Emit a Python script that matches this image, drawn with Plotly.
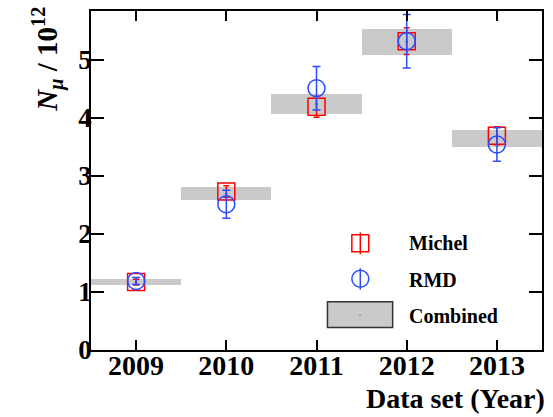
import plotly.graph_objects as go

# ---- data ----
years = [2009, 2010, 2011, 2012, 2013]
year_labels = ["2009", "2010", "2011", "2012", "2013"]
michel = [1.17, 2.73, 4.19, 5.32, 3.69]
michel_err = [0.05, 0.10, 0.18, 0.23, 0.155]
rmd = [1.19, 2.51, 4.51, 5.32, 3.54]
rmd_err = [0.06, 0.24, 0.375, 0.46, 0.29]
combined = [1.17, 2.69, 4.24, 5.31, 3.65]
combined_err = [0.05, 0.11, 0.17, 0.22, 0.145]
y_ticks = [0, 1, 2, 3, 4, 5]

W, H = 553, 417
ML, MR, MT, MB = 91, 9, 10, 67
PW, PH = W - ML - MR, H - MT - MB

def px(x):
    return (x - ML) / PW

def py(y):
    return (H - MB - y) / PH

FONT = "Liberation Serif"
RED = "#ff0000"
BLUE = "#2a4bff"
GRAY = "#cacaca"

fig = go.Figure()

# combined bands
fig.add_trace(go.Bar(
    x=years,
    y=[2 * e for e in combined_err],
    base=[c - e for c, e in zip(combined, combined_err)],
    width=1.0,
    marker=dict(color=GRAY, line=dict(width=0)),
    showlegend=False, hoverinfo="skip",
))
fig.add_trace(go.Scatter(
    x=years, y=combined, mode="markers",
    marker=dict(color="black", size=2),
    showlegend=False, hoverinfo="skip",
))

# Michel
fig.add_trace(go.Scatter(
    x=years, y=michel, mode="markers",
    marker=dict(symbol="square-open", size=17, color=RED, line=dict(width=1.5, color=RED)),
    error_y=dict(type="data", array=michel_err, color=RED, thickness=1.5, width=3),
    showlegend=False,
))
# RMD
fig.add_trace(go.Scatter(
    x=years, y=rmd, mode="markers",
    marker=dict(symbol="circle-open", size=17, color=BLUE, line=dict(width=1.5, color=BLUE)),
    error_y=dict(type="data", array=rmd_err, color=BLUE, thickness=1.5, width=4),
    showlegend=False,
))

# ---- manual legend ----
shapes = [
    # Michel
    dict(type="rect", xref="paper", yref="paper", x0=px(353), x1=px(370), y0=py(251.5), y1=py(234.5),
         line=dict(color=RED, width=1.5)),
    dict(type="line", xref="paper", yref="paper", x0=px(361.5), x1=px(361.5), y0=py(254), y1=py(232),
         line=dict(color=RED, width=1.5)),
    # RMD
    dict(type="circle", xref="paper", yref="paper", x0=px(353), x1=px(370), y0=py(287), y1=py(270),
         line=dict(color=BLUE, width=1.5)),
    dict(type="line", xref="paper", yref="paper", x0=px(361.5), x1=px(361.5), y0=py(289.5), y1=py(268),
         line=dict(color=BLUE, width=1.5)),
    # Combined
    dict(type="rect", xref="paper", yref="paper", x0=px(328.5), x1=px(394), y0=py(327.5), y1=py(301.5),
         fillcolor=GRAY, line=dict(color="#333333", width=1.5)),
    dict(type="rect", xref="paper", yref="paper", x0=px(360.7), x1=px(361.7), y0=py(315.3), y1=py(314.3),
         fillcolor="#444444", line=dict(width=0)),
]

annotations = [
    dict(text="Michel", xref="paper", yref="paper", x=px(408), y=py(243), xanchor="left", yanchor="middle",
         showarrow=False, font=dict(family=FONT, size=20, color="black", weight="bold")),
    dict(text="RMD", xref="paper", yref="paper", x=px(408), y=py(280), xanchor="left", yanchor="middle",
         showarrow=False, font=dict(family=FONT, size=20, color="black", weight="bold")),
    dict(text="Combined", xref="paper", yref="paper", x=px(408), y=py(316), xanchor="left", yanchor="middle",
         showarrow=False, font=dict(family=FONT, size=20, color="black", weight="bold")),
    # axis titles
    dict(text="Data set (Year)", xref="paper", yref="paper", x=px(549), y=py(399), xanchor="right",
         yanchor="middle", showarrow=False, font=dict(family=FONT, size=28, color="black", weight="bold")),
    dict(text="<i>N</i><sub><i>μ</i></sub> / 10<sup>12</sup>", xref="paper", yref="paper", x=px(47), y=py(4),
         xanchor="center", yanchor="top", textangle=-90, showarrow=False,
         font=dict(family=FONT, size=29, color="black", weight="bold")),
]

fig.update_layout(
    width=W, height=H,
    margin=dict(l=ML, r=MR, t=MT, b=MB, pad=0),
    paper_bgcolor="white", plot_bgcolor="white",
    shapes=shapes, annotations=annotations,
    showlegend=False,
    bargap=0,
)
fig.update_xaxes(
    range=[2008.5, 2013.5], tickvals=years, ticktext=year_labels,
    showline=True, linecolor="black", linewidth=1.5, mirror="ticks",
    ticks="inside", ticklen=10, tickwidth=1.5, tickcolor="black",
    showgrid=False, zeroline=False,
    tickfont=dict(family=FONT, size=28, color="black", weight="bold"),
    ticklabelstandoff=-10,
)
fig.update_yaxes(
    range=[0, 5.84], tickvals=y_ticks,
    showline=True, linecolor="black", linewidth=1.5, mirror="ticks",
    ticks="inside", ticklen=13, tickwidth=1.5, tickcolor="black",
    showgrid=False, zeroline=False,
    tickfont=dict(family=FONT, size=27, color="black", weight="bold"),
    ticklabelstandoff=-8,
)

fig.write_html(
    "out.html",
    config={"displayModeBar": False},
    post_script="document.body.style.margin='0';document.body.style.padding='0';document.body.style.overflow='hidden';",
)
